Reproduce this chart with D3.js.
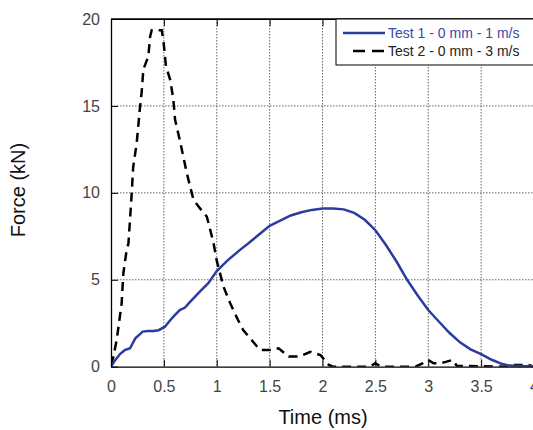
<!DOCTYPE html>
<html>
<head>
<meta charset="utf-8">
<script src="https://cdn.jsdelivr.net/npm/d3@7"></script>
<style>
  html, body { margin: 0; padding: 0; background: #fff; }
  svg { display: block; font-family: "Liberation Sans", Arial, sans-serif; }
</style>
</head>
<body>
<svg id="chart" width="533" height="430"></svg>
<script>
// ---- Data ----
const xTicks = [0, 0.5, 1, 1.5, 2, 2.5, 3, 3.5, 4];
const yTicks = [0, 5, 10, 15, 20];
const xTickLabels = ["0", "0.5", "1", "1.5", "2", "2.5", "3", "3.5", "4"];
const yTickLabels = ["0", "5", "10", "15", "20"];
const seriesNames = ["Test 1 - 0 mm - 1 m/s", "Test 2 - 0 mm - 3 m/s"];

const test1Time = [0, 0.03, 0.085, 0.13, 0.18, 0.23, 0.3, 0.35, 0.4, 0.45, 0.51, 0.55, 0.59, 0.65, 0.7, 0.75, 0.84, 0.92, 1.0, 1.1, 1.22, 1.3, 1.4, 1.5, 1.6, 1.7, 1.8, 1.9, 2.0, 2.1, 2.2, 2.3, 2.4, 2.5, 2.6, 2.7, 2.8, 2.9, 3.0, 3.1, 3.2, 3.3, 3.4, 3.5, 3.6, 3.7, 3.75, 3.8, 3.9, 4.0];
const test1Force = [0, 0.3, 0.73, 0.95, 1.06, 1.63, 2.02, 2.05, 2.05, 2.1, 2.3, 2.6, 2.88, 3.26, 3.4, 3.74, 4.32, 4.8, 5.5, 6.1, 6.72, 7.1, 7.6, 8.1, 8.4, 8.7, 8.88, 9.02, 9.1, 9.1, 9.05, 8.85, 8.45, 7.85, 7.0, 6.05, 5.0, 4.1, 3.26, 2.6, 1.95, 1.4, 1.0, 0.72, 0.4, 0.15, 0.08, 0.05, 0.03, 0.02];

const test2Time = [0, 0.022, 0.054, 0.1, 0.117, 0.148, 0.165, 0.196, 0.21, 0.243, 0.275, 0.29, 0.306, 0.353, 0.37, 0.385, 0.48, 0.495, 0.52, 0.56, 0.59, 0.606, 0.65, 0.717, 0.78, 0.84, 0.906, 0.97, 1.0, 1.064, 1.127, 1.2, 1.25, 1.316, 1.41, 1.5, 1.585, 1.68, 1.78, 1.885, 1.98, 2.06, 2.1, 2.45, 2.5, 2.55, 2.88, 2.95, 3.0, 3.05, 3.1, 3.15, 3.23, 3.27, 3.75, 3.8, 3.95, 4.0];
const test2Force = [0.1, 0.58, 1.54, 3.6, 5.38, 6.72, 7.1, 9.98, 11.5, 12.86, 14.97, 15.8, 17.1, 17.85, 19.0, 19.35, 19.35, 18.8, 17.27, 16.5, 15.35, 14.2, 13.05, 11.13, 9.6, 9.12, 8.64, 7.1, 6.1, 4.6, 3.65, 2.7, 2.11, 1.63, 0.96, 0.96, 1.06, 0.58, 0.58, 0.86, 0.67, 0.1, 0, 0, 0.2, 0, 0, 0.2, 0.39, 0.2, 0.2, 0.25, 0.39, 0.05, 0, 0.1, 0.1, 0];

// ---- Layout ----
const svg = d3.select("#chart");
const pLeft = 111, pRight = 534, pTop = 19, pBottom = 366.7;
const x = d3.scaleLinear().domain([0, 4]).range([pLeft, pRight]);
const y = d3.scaleLinear().domain([0, 20]).range([pBottom, pTop]);

// Grid
const grid = svg.append("g").attr("stroke", "#666").attr("stroke-width", 1).attr("stroke-dasharray", "1.5,1.5");
grid.selectAll("line.v").data(xTicks.slice(1)).join("line")
  .attr("x1", d => x(d)).attr("x2", d => x(d)).attr("y1", pTop).attr("y2", pBottom);
grid.selectAll("line.h").data(yTicks.slice(1, -1)).join("line")
  .attr("x1", pLeft).attr("x2", pRight).attr("y1", d => y(d)).attr("y2", d => y(d));

// Clip
svg.append("clipPath").attr("id", "clip").append("rect")
  .attr("x", pLeft).attr("y", pTop - 2).attr("width", pRight - pLeft).attr("height", pBottom - pTop + 2);

const line = d3.line().x(d => x(d[0])).y(d => y(d[1]));
const s1 = test1Time.map((t, i) => [t, test1Force[i]]);
const s2 = test2Time.map((t, i) => [t, test2Force[i]]);

svg.append("path").datum(s2).attr("clip-path", "url(#clip)")
  .attr("d", line).attr("fill", "none").attr("stroke", "#000")
  .attr("stroke-width", 2.5).attr("stroke-dasharray", "9,6");
svg.append("path").datum(s1).attr("clip-path", "url(#clip)")
  .attr("d", line).attr("fill", "none").attr("stroke", "#2b3c9e")
  .attr("stroke-width", 2.5);

// Axes
const xAxis = d3.axisBottom(x).tickValues(xTicks).tickFormat((d, i) => xTickLabels[i])
  .tickSizeInner(-7).tickSizeOuter(0).tickPadding(14);
const gx = svg.append("g").attr("transform", `translate(0,${pBottom})`).call(xAxis);
const yAxis = d3.axisLeft(y).tickValues(yTicks).tickFormat((d, i) => yTickLabels[i])
  .tickSizeInner(-7).tickSizeOuter(0).tickPadding(11);
const gy = svg.append("g").attr("transform", `translate(${pLeft},0)`).call(yAxis);
const xTop = d3.axisTop(x).tickValues(xTicks).tickFormat("").tickSizeInner(-7).tickSizeOuter(0);
svg.append("g").attr("transform", `translate(0,${pTop})`).call(xTop);
[gx, gy].forEach(g => {
  g.selectAll("text").attr("font-size", 16).attr("fill", "#444")
    .attr("font-family", "'Liberation Sans', Arial, sans-serif");
  g.select(".domain").attr("stroke", "#000").attr("stroke-width", 1.3);
});
svg.selectAll(".tick line").attr("stroke", "#000");

// Frame top
svg.append("line").attr("x1", pLeft).attr("x2", pRight).attr("y1", pTop).attr("y2", pTop)
  .attr("stroke", "#000").attr("stroke-width", 1.3);

// Axis titles
svg.append("text").attr("x", 323).attr("y", 424).attr("text-anchor", "middle")
  .attr("font-size", 20).attr("fill", "#111").text("Time (ms)");
svg.append("text").attr("transform", "translate(25,190) rotate(-90)")
  .attr("text-anchor", "middle").attr("font-size", 20).attr("fill", "#111").text("Force (kN)");

// Legend
const lg = svg.append("g");
lg.append("rect").attr("x", 336).attr("y", pTop).attr("width", 210).attr("height", 46)
  .attr("fill", "#fff").attr("stroke", "#000").attr("stroke-width", 1);
lg.append("line").attr("x1", 343).attr("x2", 385).attr("y1", 33).attr("y2", 33)
  .attr("stroke", "#2b3c9e").attr("stroke-width", 2.5);
lg.append("line").attr("x1", 353).attr("x2", 384).attr("y1", 51).attr("y2", 51)
  .attr("stroke", "#000").attr("stroke-width", 2.5).attr("stroke-dasharray", "12,7");
lg.append("text").attr("x", 388).attr("y", 38).attr("font-size", 14).attr("fill", "#3a4aa6").text(seriesNames[0]);
lg.append("text").attr("x", 388).attr("y", 56).attr("font-size", 14).attr("fill", "#222").text(seriesNames[1]);
</script>
</body>
</html>
